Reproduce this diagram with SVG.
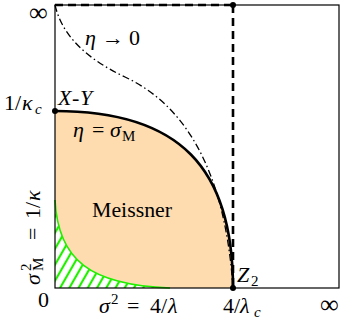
<svg xmlns="http://www.w3.org/2000/svg" width="346" height="323" viewBox="0 0 346 323">
<defs>
<style>
.i{font-style:italic}
.thin{fill:none;stroke:#000;stroke-width:1.2}
.thick{fill:none;stroke:#000;stroke-width:2.6;stroke-dasharray:8,5}
.dot{fill:#000}
</style>
<pattern id="hatch" patternUnits="userSpaceOnUse" width="8" height="8" patternTransform="rotate(-60)">
<line x1="0" y1="4" x2="8" y2="4" stroke="#22ee00" stroke-width="2.2"/>
</pattern>
</defs>
<rect width="346" height="323" fill="#fff"/>
<g id="meissner">
<path d="M55,111 C180,111 233,168 233,288 L55,288 Z" fill="#fedcb0"/>
<path d="M55,111 C180,111 233,168 233,288" fill="none" stroke="#000" stroke-width="2.6"/>
<text x="92" y="217" font-size="21" font-family="Liberation Serif, serif" fill="#000" textLength="80" lengthAdjust="spacingAndGlyphs">Meissner</text>
</g>
<g id="hatched">
<path d="M55,200 C58,260 90,285 170,288 L55,288 Z" fill="#fff"/>
<path d="M55,200 C58,260 90,285 170,288 L55,288 Z" fill="url(#hatch)"/>
<path d="M55,200 C58,260 90,285 170,288" fill="none" stroke="#22ee00" stroke-width="1.6"/>
</g>
<g id="connectors">
<rect x="55" y="5" width="284" height="283" class="thin"/>
<path d="M55,5 C62,35 85,58 125,77 C185,105 225,170 233,288" fill="none" stroke="#000" stroke-width="1.3" stroke-dasharray="7,3,1.5,3"/>
<line x1="55" y1="5" x2="233" y2="5" class="thick"/>
<line x1="233" y1="5" x2="233" y2="288" class="thick"/>
</g>
<g id="points">
<circle cx="55" cy="111" r="3" class="dot"/>
<circle cx="233" cy="288" r="3" class="dot"/>
<circle cx="233" cy="5" r="3" class="dot"/>
</g>
<g id="labels" font-family="Liberation Serif, serif" fill="#000">
<text x="29" y="21" font-size="26">∞</text>
<text x="320" y="313" font-size="26">∞</text>
<text x="4" y="110" font-size="22">1/<tspan class="i" x="22">κ</tspan><tspan class="i" font-size="15" x="35" dy="4">c</tspan></text>
<text class="i" x="58" y="105" font-size="22">X<tspan font-style="normal" x="72">-</tspan><tspan x="80">Y</tspan></text>
<text y="45" font-size="22"><tspan class="i" x="85">η</tspan><tspan x="102">→</tspan><tspan x="129">0</tspan></text>
<text y="137" font-size="22"><tspan class="i" x="73">η</tspan><tspan x="92">=</tspan><tspan class="i" x="110">σ</tspan><tspan font-size="15" dy="4" x="122">M</tspan></text>
<text y="282" font-size="22"><tspan class="i" x="237">Z</tspan><tspan font-size="15" dy="4" x="251">2</tspan></text>
<text x="38" y="307" font-size="22">0</text>
<text y="313" font-size="22"><tspan class="i" x="99">σ</tspan><tspan font-size="15" dy="-9" x="111">2</tspan><tspan dy="9" x="127">=</tspan><tspan x="150">4/</tspan><tspan class="i" x="168">λ</tspan></text>
<text y="313" font-size="22"><tspan x="223">4/</tspan><tspan class="i" x="240">λ</tspan><tspan class="i" font-size="15" x="254" dy="4">c</tspan></text>
<text transform="translate(40,285) rotate(-90)" font-size="22"><tspan class="i" x="0">σ</tspan><tspan font-size="15" x="14" dy="-9">2</tspan><tspan font-size="15" x="14" dy="12">M</tspan><tspan x="45" dy="-3">=</tspan><tspan x="66">1/</tspan><tspan class="i" x="84">κ</tspan></text>
</g>
</svg>
